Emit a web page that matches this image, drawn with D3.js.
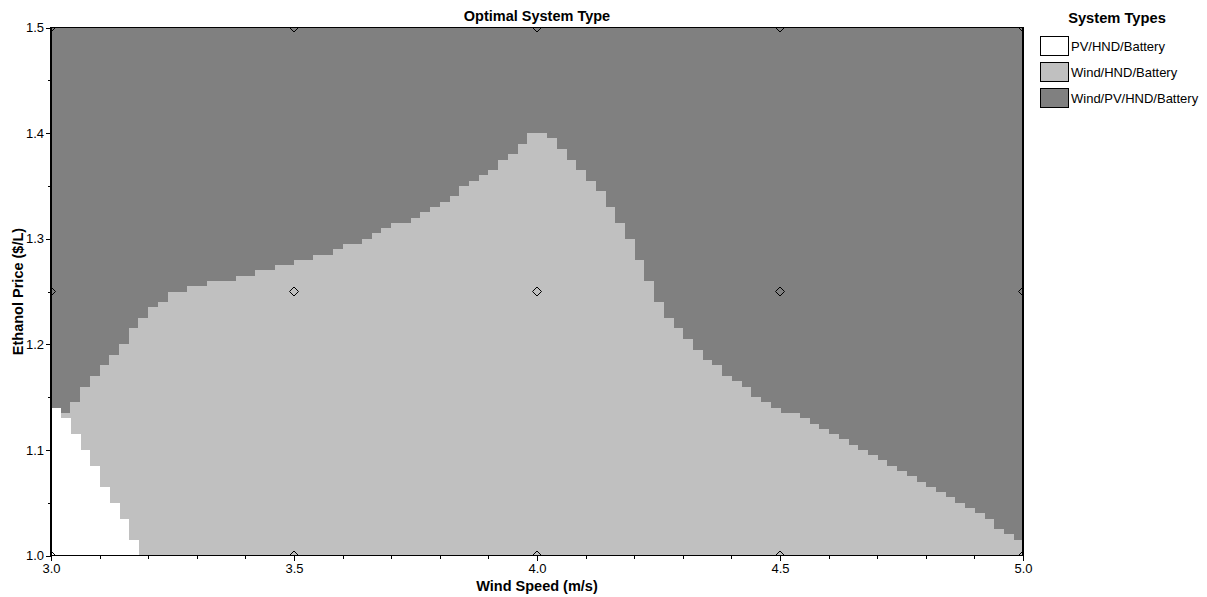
<!DOCTYPE html>
<html>
<head>
<meta charset="utf-8">
<script src="https://cdn.jsdelivr.net/npm/d3@7"></script>
<style>
  html, body { margin: 0; padding: 0; background: #ffffff; }
  svg { display: block; }
  text { font-family: "Liberation Sans", Arial, sans-serif; fill: #000; }
</style>
</head>
<body>
<svg id="chart" width="1207" height="597"></svg>
<script>
// ---------------- data ----------------
const chartTitle = "Optimal System Type";
const xTitle = "Wind Speed (m/s)";
const yTitle = "Ethanol Price ($/L)";
const legendTitle = "System Types";
const systemTypes = ["PV/HND/Battery", "Wind/HND/Battery", "Wind/PV/HND/Battery"];
const systemColors = ["#ffffff", "#c0c0c0", "#808080"];

// left edge of each wind-speed column of the grid (m/s), width 0.02
const windSpeeds = [
  3.00,3.02,3.04,3.06,3.08,3.10,3.12,3.14,3.16,3.18,
  3.20,3.22,3.24,3.26,3.28,3.30,3.32,3.34,3.36,3.38,
  3.40,3.42,3.44,3.46,3.48,3.50,3.52,3.54,3.56,3.58,
  3.60,3.62,3.64,3.66,3.68,3.70,3.72,3.74,3.76,3.78,
  3.80,3.82,3.84,3.86,3.88,3.90,3.92,3.94,3.96,3.98,
  4.00,4.02,4.04,4.06,4.08,4.10,4.12,4.14,4.16,4.18,
  4.20,4.22,4.24,4.26,4.28,4.30,4.32,4.34,4.36,4.38,
  4.40,4.42,4.44,4.46,4.48,4.50,4.52,4.54,4.56,4.58,
  4.60,4.62,4.64,4.66,4.68,4.70,4.72,4.74,4.76,4.78,
  4.80,4.82,4.84,4.86,4.88,4.90,4.92,4.94,4.96,4.98
];
const windStep = 0.02;

// ethanol price ($/L) up to which PV/HND/Battery is optimal, per column
const pvTop = [
  1.140,1.130,1.115,1.100,1.085,1.065,1.050,1.035,1.015,1.000,
  1.000,1.000,1.000,1.000,1.000,1.000,1.000,1.000,1.000,1.000,
  1.000,1.000,1.000,1.000,1.000,1.000,1.000,1.000,1.000,1.000,
  1.000,1.000,1.000,1.000,1.000,1.000,1.000,1.000,1.000,1.000,
  1.000,1.000,1.000,1.000,1.000,1.000,1.000,1.000,1.000,1.000,
  1.000,1.000,1.000,1.000,1.000,1.000,1.000,1.000,1.000,1.000,
  1.000,1.000,1.000,1.000,1.000,1.000,1.000,1.000,1.000,1.000,
  1.000,1.000,1.000,1.000,1.000,1.000,1.000,1.000,1.000,1.000,
  1.000,1.000,1.000,1.000,1.000,1.000,1.000,1.000,1.000,1.000,
  1.000,1.000,1.000,1.000,1.000,1.000,1.000,1.000,1.000,1.000
];

// ethanol price ($/L) up to which Wind/HND/Battery is optimal, per column
const windTop = [
  1.140,1.135,1.145,1.160,1.170,1.180,1.190,1.200,1.215,1.225,
  1.235,1.240,1.250,1.250,1.255,1.255,1.260,1.260,1.260,1.265,
  1.265,1.270,1.270,1.275,1.275,1.280,1.280,1.285,1.285,1.290,
  1.295,1.295,1.300,1.305,1.310,1.315,1.315,1.320,1.325,1.330,
  1.335,1.340,1.350,1.355,1.360,1.365,1.375,1.380,1.390,1.400,
  1.400,1.395,1.385,1.375,1.365,1.355,1.345,1.330,1.315,1.300,
  1.280,1.260,1.240,1.225,1.215,1.205,1.195,1.185,1.180,1.170,
  1.165,1.160,1.150,1.145,1.140,1.135,1.135,1.130,1.125,1.120,
  1.115,1.110,1.105,1.100,1.095,1.090,1.085,1.080,1.075,1.070,
  1.065,1.060,1.055,1.050,1.045,1.040,1.035,1.025,1.020,1.015
];

// sensitivity points (markers)
const sensWind = [3.0, 3.5, 4.0, 4.5, 5.0];
const sensPrice = [1.0, 1.25, 1.5];

// axis ticks
const xMajorTicks = [3.0, 3.5, 4.0, 4.5, 5.0];
const xMinorTicks = [3.1, 3.2, 3.3, 3.4, 3.6, 3.7, 3.8, 3.9, 4.1, 4.2, 4.3, 4.4, 4.6, 4.7, 4.8, 4.9];
const yMajorTicks = [1.0, 1.1, 1.2, 1.3, 1.4, 1.5];
const yMinorTicks = [1.05, 1.15, 1.25, 1.35, 1.45];

// ---------------- layout ----------------
const plot = { left: 51, right: 1023, top: 27.5, bottom: 555.5 };
const svg = d3.select("#chart");

const x = d3.scaleLinear().domain([3.0, 5.0]).range([plot.left, plot.right]);
const y = d3.scaleLinear().domain([1.0, 1.5]).range([plot.bottom, plot.top]);

const cells = windSpeeds.map((w, i) => ({ w, pv: pvTop[i], wind: windTop[i] }));

svg.append("defs").append("clipPath").attr("id", "plotClip")
  .append("rect")
  .attr("x", plot.left).attr("y", plot.top)
  .attr("width", plot.right - plot.left).attr("height", plot.bottom - plot.top);

const area = svg.append("g").attr("clip-path", "url(#plotClip)").attr("shape-rendering", "crispEdges");

// background: Wind/PV/HND/Battery
area.append("rect")
  .attr("x", x(3.0)).attr("y", y(1.5))
  .attr("width", x(5.0) - x(3.0)).attr("height", y(1.0) - y(1.5))
  .attr("fill", systemColors[2]);

// Wind/HND/Battery columns
area.selectAll("rect.wind").data(cells).enter().append("rect")
  .attr("class", "wind")
  .attr("x", d => x(d.w))
  .attr("width", d => x(d.w + windStep) - x(d.w) + 0.5)
  .attr("y", d => y(d.wind))
  .attr("height", d => y(1.0) - y(d.wind))
  .attr("fill", systemColors[1]);

// PV/HND/Battery columns
area.selectAll("rect.pv").data(cells.filter(d => d.pv > 1.0)).enter().append("rect")
  .attr("class", "pv")
  .attr("x", d => x(d.w))
  .attr("width", d => x(d.w + windStep) - x(d.w) + 0.5)
  .attr("y", d => y(d.pv))
  .attr("height", d => y(1.0) - y(d.pv))
  .attr("fill", systemColors[0]);

// sensitivity markers (diamonds)
const pts = [];
sensWind.forEach(w => sensPrice.forEach(p => pts.push({ w, p })));
const markers = svg.append("g").attr("clip-path", "url(#plotClip)");
markers.selectAll("path").data(pts).enter().append("path")
  .attr("d", d => {
    const cx = x(d.w), cy = y(d.p), r = 4.5;
    return `M${cx},${cy - r}L${cx + r},${cy}L${cx},${cy + r}L${cx - r},${cy}Z`;
  })
  .attr("fill", "none")
  .attr("stroke", "#000")
  .attr("stroke-width", 1);

// frame
svg.append("rect")
  .attr("x", plot.left).attr("y", plot.top)
  .attr("width", plot.right - plot.left).attr("height", plot.bottom - plot.top)
  .attr("fill", "none").attr("stroke", "#000").attr("stroke-width", 1.2)
  .attr("shape-rendering", "crispEdges");

// x axis
const xAxisG = svg.append("g").attr("transform", `translate(0,${plot.bottom})`);
xAxisG.call(d3.axisBottom(x).tickValues(xMajorTicks).tickFormat(d3.format(".1f")).tickSize(5).tickPadding(3))
  .call(g => g.select(".domain").remove())
  .call(g => g.selectAll("text").attr("font-size", "13px").attr("font-family", "Liberation Sans, Arial, sans-serif"));
svg.append("g").attr("transform", `translate(0,${plot.bottom})`)
  .call(d3.axisBottom(x).tickValues(xMinorTicks).tickFormat("").tickSize(3))
  .call(g => g.select(".domain").remove());

// y axis
const yAxisG = svg.append("g").attr("transform", `translate(${plot.left},0)`);
yAxisG.call(d3.axisLeft(y).tickValues(yMajorTicks).tickFormat(d3.format(".1f")).tickSize(5).tickPadding(2))
  .call(g => g.select(".domain").remove())
  .call(g => g.selectAll("text").attr("font-size", "13px").attr("font-family", "Liberation Sans, Arial, sans-serif"));
svg.append("g").attr("transform", `translate(${plot.left},0)`)
  .call(d3.axisLeft(y).tickValues(yMinorTicks).tickFormat("").tickSize(3))
  .call(g => g.select(".domain").remove());

svg.selectAll(".tick line").attr("stroke", "#000").attr("shape-rendering", "crispEdges");

// titles
svg.append("text")
  .attr("x", (plot.left + plot.right) / 2).attr("y", 21)
  .attr("text-anchor", "middle").attr("font-weight", "bold").attr("font-size", "14.5px")
  .text(chartTitle);

svg.append("text")
  .attr("x", (plot.left + plot.right) / 2).attr("y", 591)
  .attr("text-anchor", "middle").attr("font-weight", "bold").attr("font-size", "14.5px")
  .text(xTitle);

svg.append("text")
  .attr("transform", `translate(23,${(plot.top + plot.bottom) / 2}) rotate(-90)`)
  .attr("text-anchor", "middle").attr("font-weight", "bold").attr("font-size", "14.5px")
  .text(yTitle);

// legend
const legend = svg.append("g");
legend.append("text")
  .attr("x", 1117).attr("y", 23)
  .attr("text-anchor", "middle").attr("font-weight", "bold").attr("font-size", "14.7px")
  .text(legendTitle);

const items = legend.selectAll("g.item").data(systemTypes).enter().append("g")
  .attr("class", "item")
  .attr("transform", (d, i) => `translate(1040.5,${36.5 + i * 26})`);
items.append("rect")
  .attr("width", 28).attr("height", 19)
  .attr("fill", (d, i) => systemColors[i])
  .attr("stroke", "#000").attr("stroke-width", 1)
  .attr("shape-rendering", "crispEdges");
items.append("text")
  .attr("x", 30.5).attr("y", 14)
  .attr("font-size", "13px")
  .text(d => d);
</script>
</body>
</html>
